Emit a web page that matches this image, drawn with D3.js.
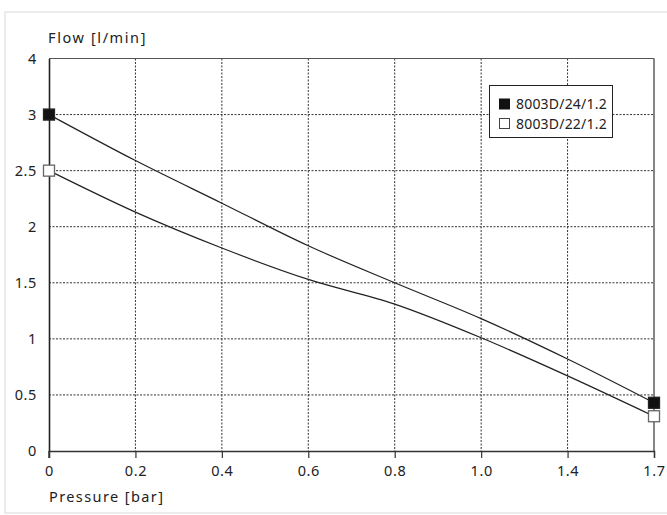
<!DOCTYPE html>
<html><head><meta charset="utf-8">
<script src="https://cdn.jsdelivr.net/npm/d3@7"></script>
<style>
html,body{margin:0;padding:0;background:#fff;}
svg{display:block;font-family:"Noto Sans",sans-serif;}
</style></head>
<body>
<svg id="c" width="667" height="515"></svg>
<script>
const pressureTicks = [0, 0.2, 0.4, 0.6, 0.8, 1.0, 1.4, 1.7];
const pressureLabels = ["0", "0.2", "0.4", "0.6", "0.8", "1.0", "1.4", "1.7"];
const flowTicks = [0, 0.5, 1, 1.5, 2, 2.5, 3, 4];
const flowLabels = ["0", "0.5", "1", "1.5", "2", "2.5", "3", "4"];
const seriesNames = ["8003D/24/1.2", "8003D/22/1.2"];
const flow24 = [3.0, 2.59, 2.21, 1.83, 1.5, 1.18, 0.82, 0.43];
const flow22 = [2.5, 2.13, 1.81, 1.53, 1.31, 1.01, 0.67, 0.31];
const xTitle = "Pressure [bar]";
const yTitle = "Flow [l/min]";

const svg = d3.select("#c");
const L = 49, R = 654, T = 58.5, B = 451;
const FONT = "'Noto Sans',sans-serif";

// page frame
svg.append("rect").attr("x",5).attr("y",12).attr("width",700).attr("height",501)
  .attr("fill","none").attr("stroke","#e6e6e6").attr("stroke-width",1.5);

const x = d3.scaleLinear().domain(pressureTicks)
  .range(pressureTicks.map((d,i)=> L + i*(R-L)/(pressureTicks.length-1)));
const y = d3.scaleLinear().domain(flowTicks)
  .range(flowTicks.map((d,i)=> B - i*(B-T)/(flowTicks.length-1)));

const g = svg.append("g");
// grid
g.selectAll(".vg").data(pressureTicks.slice(1,-1)).enter().append("line")
  .attr("x1",d=>x(d)).attr("x2",d=>x(d)).attr("y1",T).attr("y2",B)
  .attr("stroke","#333").attr("stroke-dasharray","2,1.5").attr("stroke-width",1);
g.selectAll(".hg").data(flowTicks.slice(1,-1)).enter().append("line")
  .attr("y1",d=>y(d)).attr("y2",d=>y(d)).attr("x1",L).attr("x2",R)
  .attr("stroke","#333").attr("stroke-dasharray","2,1.5").attr("stroke-width",1);

// frame
g.append("line").attr("x1",L).attr("x2",R).attr("y1",T).attr("y2",T).attr("stroke","#555").attr("stroke-width",1);
g.append("line").attr("x1",R).attr("x2",R).attr("y1",T).attr("y2",B).attr("stroke","#444").attr("stroke-width",1.3);

// x axis
const xa = svg.append("g").attr("transform",`translate(0,${B})`)
  .call(d3.axisBottom(x).tickValues(pressureTicks).tickFormat((d,i)=>pressureLabels[i]).tickSize(7).tickPadding(8));
xa.select(".domain").attr("stroke","#333").attr("stroke-width",1.4);
xa.selectAll(".tick line").attr("stroke","#333").attr("stroke-width",1.2);
xa.selectAll("text").attr("font-size",14.5).attr("fill","#222").attr("font-family",FONT).attr("letter-spacing",0.6);

// y axis
const ya = svg.append("g").attr("transform",`translate(${L},0)`)
  .call(d3.axisLeft(y).tickValues(flowTicks).tickFormat((d,i)=>flowLabels[i]).tickSize(0).tickPadding(12));
ya.select(".domain").attr("stroke","#222").attr("stroke-width",1.6);
ya.selectAll("text").attr("font-size",14.5).attr("fill","#222").attr("font-family",FONT).attr("letter-spacing",0.6);
// y axis extension below zero
svg.append("line").attr("x1",L).attr("x2",L).attr("y1",B).attr("y2",B+7).attr("stroke","#333").attr("stroke-width",1.4);

// titles
svg.append("text").attr("x",48).attr("y",43).attr("font-size",14.5).attr("letter-spacing",1.6).attr("fill","#222").text(yTitle);
svg.append("text").attr("x",49).attr("y",502).attr("font-size",14.5).attr("letter-spacing",1.4).attr("fill","#222").text(xTitle);

// lines
const line = d3.line().x((d,i)=>x(pressureTicks[i])).y(d=>y(d)).curve(d3.curveMonotoneX);
[flow24, flow22].forEach(s=>{
  svg.append("path").attr("d",line(s)).attr("fill","none").attr("stroke","#222").attr("stroke-width",1.2);
});

// markers at ends
const ms = 11;
function markers(s, filled){
  const idx = [0, s.length-1];
  svg.selectAll(null).data(idx).enter().append("rect")
    .attr("x",i=>x(pressureTicks[i])-ms/2).attr("y",i=>y(s[i])-ms/2)
    .attr("width",ms).attr("height",ms)
    .attr("fill", filled ? "#111" : "#fff")
    .attr("stroke", filled ? "#222" : "#666").attr("stroke-width",1.3);
}
markers(flow24, true);
markers(flow22, false);

// legend
const lg = svg.append("g");
lg.append("rect").attr("x",489.5).attr("y",85.5).attr("width",123).attr("height",52)
  .attr("fill","#fff").attr("stroke","#222").attr("stroke-width",1);
seriesNames.forEach((n,i)=>{
  const cy = 104 + i*19.5;
  lg.append("rect").attr("x",499.5).attr("y",cy-5).attr("width",10).attr("height",10)
    .attr("fill", i===0 ? "#111" : "#fff").attr("stroke", i===0 ? "#111" : "#444").attr("stroke-width",1);
  lg.append("text").attr("x",516).attr("y",cy+5).attr("font-size",14).attr("letter-spacing",0.2).attr("fill","#222").text(n);
});
</script>
</body></html>
